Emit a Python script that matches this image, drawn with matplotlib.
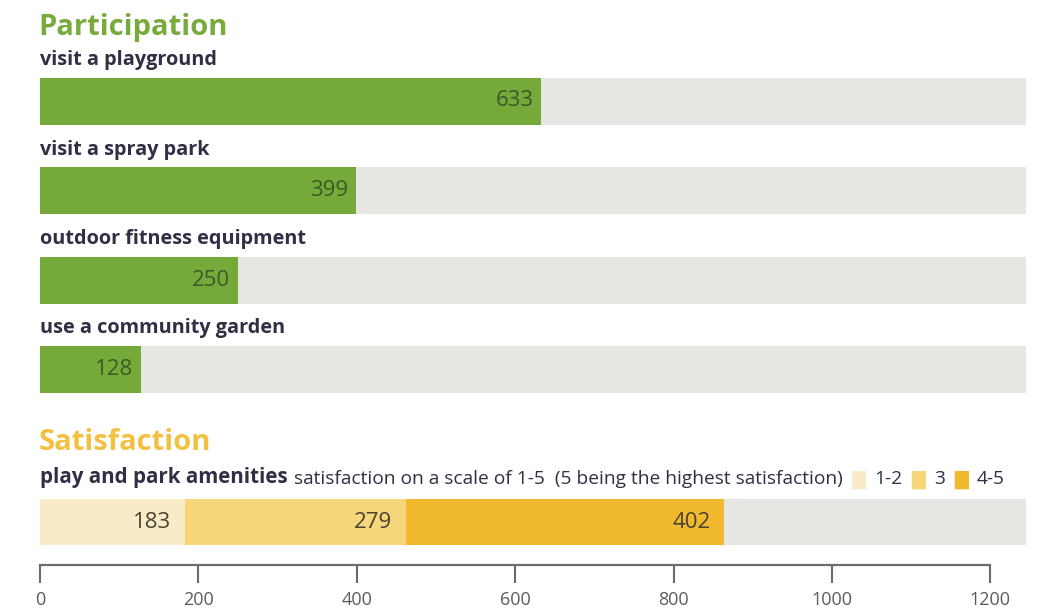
import matplotlib
matplotlib.use("Agg")
import numpy as np
import matplotlib.pyplot as plt

# participation counts
activities = ["visit a playground", "visit a spray park",
              "outdoor fitness equipment", "use a community garden"]
participants = [633, 399, 250, 128]

# satisfaction with play and park amenities (scale 1-5)
sat_levels = ["1-2", "3", "4-5"]
sat_counts = [183, 279, 402]

axis_ticks = [0, 200, 400, 600, 800, 1000, 1200]
track_max = 1245  # length of the grey track behind the bars

green = "#75a93a"
track = "#e6e6e3"
sat_colors = ["#f9ebc8", "#f6d67a", "#f0b92e"]
ink = "#2f2f45"

plt.rcParams['font.family'] = ['Open Sans', 'DejaVu Sans']

fig = plt.figure(figsize=(10.45, 6.09), dpi=100)
ax = fig.add_axes([40 / 1045, 44 / 609, 1005 / 1045, 565 / 609])
ax.set_xlim(0, 1005 / 0.792)
ax.set_ylim(565, 0)

# participation block
ax.text(-2, 27, "Participation", fontsize=21, fontweight='bold',
        color="#78ab3c", va='center', ha='left')

row_y = 101 + 89.5 * np.arange(len(activities))
ax.barh(row_y, [track_max] * len(activities), height=47, color=track)
ax.barh(row_y, participants, height=47, color=green)
for y, name, v in zip(row_y, activities, participants):
    ax.text(0, y - 41, name, fontsize=14.3, fontweight='bold', color=ink,
            va='center', ha='left')
    ax.annotate(str(v), xy=(v, y), xytext=(-8, 0), textcoords='offset pixels',
                ha='right', va='center', fontsize=16, color="#3a5a28")

# satisfaction block
ax.text(-2, 443, "Satisfaction", fontsize=21, fontweight='bold',
        color="#f2c142", va='center', ha='left')

t = ax.text(0, 488, "play and park amenities", fontsize=14.8,
            fontweight='bold', color=ink, va='bottom', ha='left')
t = ax.annotate("satisfaction on a scale of 1-5  (5 being the highest satisfaction)",
                xy=(1, 0), xycoords=t, xytext=(6, 0), textcoords='offset pixels',
                fontsize=13.8, color=ink, va='bottom', ha='left')
for lvl, c in zip(sat_levels, sat_colors):
    t = ax.annotate("\u2588", xy=(1, 0), xycoords=t, xytext=(9, -1),
                    textcoords='offset pixels', fontsize=13, color=c,
                    va='bottom', ha='left', family='DejaVu Sans',
                    annotation_clip=False)
    t = ax.annotate(lvl, xy=(1, 0), xycoords=t, xytext=(9, 1),
                    textcoords='offset pixels', fontsize=13.8, color=ink,
                    va='bottom', ha='left', annotation_clip=False)

sat_y = 522
ax.barh(sat_y, track_max, height=46, color=track)
left = 0
for v, c in zip(sat_counts, sat_colors):
    ax.barh(sat_y, v, left=left, height=46, color=c)
    ax.annotate(str(v), xy=(left + v, sat_y), xytext=(-14, 0),
                textcoords='offset pixels', ha='right', va='center',
                fontsize=16, color="#4a4232")
    left += v

# bottom scale
for s in ['top', 'right', 'left']:
    ax.spines[s].set_visible(False)
ax.spines['bottom'].set_color("#6b6b6b")
ax.spines['bottom'].set_linewidth(1.6)
ax.spines['bottom'].set_bounds(0, 1200)
ax.set_yticks([])
ax.set_xticks(axis_ticks)
ax.tick_params(axis='x', direction='out', length=13, width=1.5,
               color="#6b6b6b", labelsize=13, labelcolor="#5c5c5c", pad=6)

fig.savefig("out.png", dpi=100)
